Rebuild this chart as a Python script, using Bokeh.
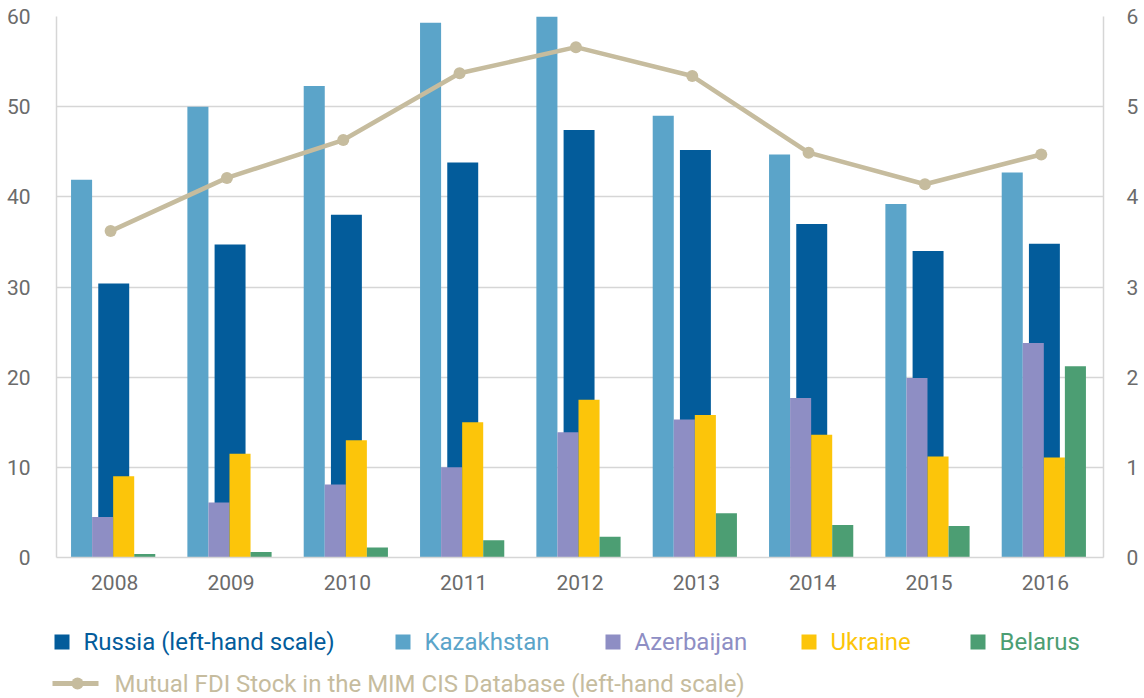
from bokeh.plotting import figure
from bokeh.models import FactorRange, Range1d, LinearAxis, FixedTicker, ColumnDataSource
from bokeh.transform import dodge
from bokeh.core.properties import value
from bokeh.embed import file_html
from bokeh.resources import INLINE

# ---- data ----
years = ["2008", "2009", "2010", "2011", "2012", "2013", "2014", "2015", "2016"]
russia = [30.4, 34.7, 38.0, 43.8, 47.4, 45.2, 37.0, 34.0, 34.8]          # left scale
kazakhstan = [4.19, 5.00, 5.23, 5.93, 6.00, 4.90, 4.47, 3.92, 4.27]    # right scale
azerbaijan = [0.45, 0.61, 0.81, 1.00, 1.39, 1.53, 1.77, 1.99, 2.38]    # right scale
ukraine = [0.90, 1.15, 1.30, 1.50, 1.75, 1.58, 1.36, 1.12, 1.11]       # right scale
belarus = [0.04, 0.06, 0.11, 0.19, 0.23, 0.49, 0.36, 0.35, 2.12]       # right scale
fdi_stock = [36.2, 42.1, 46.3, 53.7, 56.6, 53.4, 44.9, 41.4, 44.7]     # left scale
left_ticks = [0, 10, 20, 30, 40, 50, 60]
right_ticks = [0, 1, 2, 3, 4, 5, 6]
legend_names = ["Russia (left-hand scale)", "Kazakhstan", "Azerbaijan", "Ukraine", "Belarus"]
line_legend_name = "Mutual FDI Stock in the MIM CIS Database (left-hand scale)"

C_RUS = "#035c9b"
C_KAZ = "#5ba4c9"
C_AZE = "#8e8ec4"
C_UKR = "#fcc50a"
C_BLR = "#4c9e73"
C_FDI = "#c6bc9e"
GRID = "#d6d6d6"
TICK = "#6b6b6b"
FONT = "Roboto"

src = ColumnDataSource(dict(year=years, russia=russia, kaz=kazakhstan, aze=azerbaijan,
                            ukr=ukraine, blr=belarus, fdi=fdi_stock))

p = figure(x_range=FactorRange(*years, range_padding=0), y_range=Range1d(0, 60),
           frame_width=1047, frame_height=541, min_border_left=56, min_border_right=41,
           min_border_top=16, min_border_bottom=41,
           output_backend="svg", toolbar_location=None)
p.extra_y_ranges = {"right": Range1d(0, 6)}

bw = 0.181
g = -0.013
p.vbar(x=dodge("year", g - 1.5 * bw, range=p.x_range), top="kaz", width=bw, source=src,
       y_range_name="right", fill_color=C_KAZ, line_color=None)
p.vbar(x=dodge("year", g + 0.005, range=p.x_range), top="russia", width=0.266, source=src,
       fill_color=C_RUS, line_color=None)
p.vbar(x=dodge("year", g - 0.5 * bw, range=p.x_range), top="aze", width=bw, source=src,
       y_range_name="right", fill_color=C_AZE, line_color=None)
p.vbar(x=dodge("year", g + 0.5 * bw, range=p.x_range), top="ukr", width=bw, source=src,
       y_range_name="right", fill_color=C_UKR, line_color=None)
p.vbar(x=dodge("year", g + 1.5 * bw, range=p.x_range), top="blr", width=bw, source=src,
       y_range_name="right", fill_color=C_BLR, line_color=None)
p.line(x=dodge("year", -0.035, range=p.x_range), y="fdi", source=src,
       line_color=C_FDI, line_width=4.5)
p.scatter(x=dodge("year", -0.035, range=p.x_range), y="fdi", source=src, size=12,
          fill_color=C_FDI, line_color=None)

p.outline_line_color = None
p.xgrid.grid_line_color = None
p.ygrid.grid_line_color = GRID
p.ygrid.grid_line_width = 1.5
p.yaxis.ticker = FixedTicker(ticks=left_ticks)

ax_r = LinearAxis(y_range_name="right", ticker=FixedTicker(ticks=right_ticks))
p.add_layout(ax_r, "right")

for ax in [p.xaxis[0], p.yaxis[0], ax_r]:
    ax.axis_line_color = GRID
    ax.axis_line_width = 1.5
    ax.major_tick_line_color = None
    ax.minor_tick_line_color = None
    ax.major_label_text_color = TICK
    ax.major_label_text_font = FONT
    ax.major_label_text_font_size = "21px"
p.xaxis.major_label_standoff = 11
p.yaxis[0].major_label_standoff = 20
ax_r.major_label_standoff = 17

# ---- legend panel (separate root, pixel units) ----
LW, LH = 1144, 100
lg = figure(width=LW, height=LH, x_range=Range1d(0, LW), y_range=Range1d(LH, 0),
            x_axis_type=None, y_axis_type=None, min_border=0,
            output_backend="svg", toolbar_location=None)
lg.outline_line_color = None
lg.grid.grid_line_color = None
row1 = 43.5
row2 = 85
tx_x = [83, 424, 634, 830, 999]
sq_x = [t - 21.5 for t in tx_x]
cols = [C_RUS, C_KAZ, C_AZE, C_UKR, C_BLR]
lsrc = ColumnDataSource(dict(sx=sq_x, tx=tx_x, y=[row1] * 5, name=legend_names, c=cols))
lg.rect(x="sx", y="y", width=15, height=15, source=lsrc, fill_color="c", line_color=None)
lg.text(x="tx", y="y", text="name", source=lsrc, text_color="c", text_font=value(FONT),
        text_font_size="24px", text_baseline="middle", text_align="left")
lg.line(x=[52, 98], y=[row2, row2], line_color=C_FDI, line_width=5)
lg.scatter(x=[77], y=[row2], size=12, fill_color=C_FDI, line_color=None)
lg.text(x=[114], y=[row2], text=[line_legend_name], text_color=C_FDI, text_font=value(FONT),
        text_font_size="24px", text_baseline="middle", text_align="left")

open("out.html", "w").write(file_html([p, lg], INLINE))
